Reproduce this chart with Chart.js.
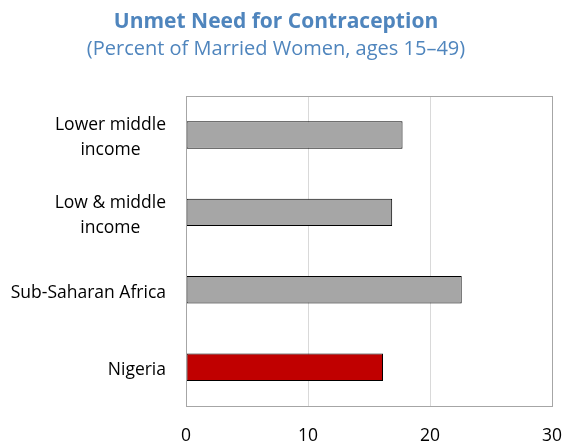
<!DOCTYPE html>
<html lang="en">

<head>
    <meta charset="UTF-8">
    <title>Unmet Need for Contraception</title>
    <script src="https://cdn.jsdelivr.net/npm/chart.js"></script>
    <style>
        body {
            margin: 0;
            background: #fff;
        }

        .chart-container {
            width: 563px;
            height: 446px;
        }
    </style>
</head>

<body>
    <div class="chart-container">
        <canvas id="needChart"></canvas>
    </div>
    <script>
        // data
        const categories = [['Lower middle', 'income'], ['Low & middle', 'income'], ['Sub-Saharan Africa'], ['Nigeria']];
        const unmetNeed = [17.75, 16.9, 22.6, 16.15];
        const barColors = ['#a6a6a6', '#a6a6a6', '#a6a6a6', '#c00000'];
        const xTicks = [0, 10, 20, 30];

        const FONT = "'Open Sans', sans-serif";

        // y labels: block right-aligned, lines centered inside the block
        const yLabelsPlugin = {
            id: 'yLabels',
            afterDraw(chart) {
                const ctx = chart.ctx;
                const yScale = chart.scales.y;
                const rightEdge = 166;
                const lineH = 25;
                ctx.save();
                ctx.font = '17.5px ' + FONT;
                ctx.fillStyle = '#000';
                ctx.textAlign = 'center';
                ctx.textBaseline = 'middle';
                categories.forEach((lines, i) => {
                    const y = yScale.getPixelForTick(i) + 3;
                    const w = Math.max(...lines.map(l => ctx.measureText(l).width));
                    const cx = rightEdge - w / 2;
                    const top = y - (lines.length - 1) * lineH / 2;
                    lines.forEach((l, j) => ctx.fillText(l, cx, top + j * lineH));
                });
                ctx.restore();
            }
        };

        // gray frame round the plot area
        const framePlugin = {
            id: 'frame',
            afterDatasetsDraw(chart) {
                const a = chart.chartArea;
                const ctx = chart.ctx;
                ctx.save();
                ctx.strokeStyle = '#a6a6a6';
                ctx.lineWidth = 1;
                ctx.strokeRect(Math.round(a.left) + 0.5, Math.round(a.top) + 0.5,
                    Math.round(a.right - a.left), Math.round(a.bottom - a.top));
                ctx.restore();
            }
        };

        new Chart(document.getElementById('needChart'), {
            type: 'bar',
            data: {
                labels: categories,
                datasets: [{
                    data: unmetNeed,
                    backgroundColor: barColors,
                    borderColor: '#000',
                    borderWidth: 1,
                    borderSkipped: false,
                    categoryPercentage: 1,
                    barPercentage: 0.355
                }]
            },
            options: {
                indexAxis: 'y',
                responsive: true,
                maintainAspectRatio: false,
                animation: false,
                layout: { padding: { left: 0, right: 11, top: 0, bottom: 0 } },
                plugins: {
                    legend: { display: false },
                    tooltip: { enabled: false },
                    title: {
                        display: true,
                        text: 'Unmet Need for Contraception',
                        color: '#4f85bd',
                        font: { family: FONT, size: 21, weight: 'bold' },
                        padding: { top: 9, bottom: 3 }
                    },
                    subtitle: {
                        display: true,
                        text: '(Percent of Married Women, ages 15\u201349)',
                        color: '#4f85bd',
                        font: { family: FONT, size: 20 },
                        padding: { top: 0, bottom: 35 }
                    }
                },
                scales: {
                    x: {
                        min: 0,
                        max: 30,
                        afterBuildTicks: scale => { scale.ticks = xTicks.map(v => ({ value: v })); },
                        grid: {
                            color: '#d9d9d9',
                            drawTicks: false
                        },
                        border: { display: false },
                        ticks: {
                            color: '#000',
                            font: { family: FONT, size: 17.5 },
                            padding: 20
                        },
                        // tick padding is counted twice by fit(), so set the size here
                        afterFit: scale => {
                            scale.height = 40;
                            scale.paddingRight = 0;
                        }
                    },
                    y: {
                        grid: { display: false, drawTicks: false },
                        border: { display: false },
                        ticks: { display: false },
                        afterFit: scale => { scale.width = 186; }
                    }
                }
            },
            plugins: [yLabelsPlugin, framePlugin]
        });
    </script>

</body>

</html>
